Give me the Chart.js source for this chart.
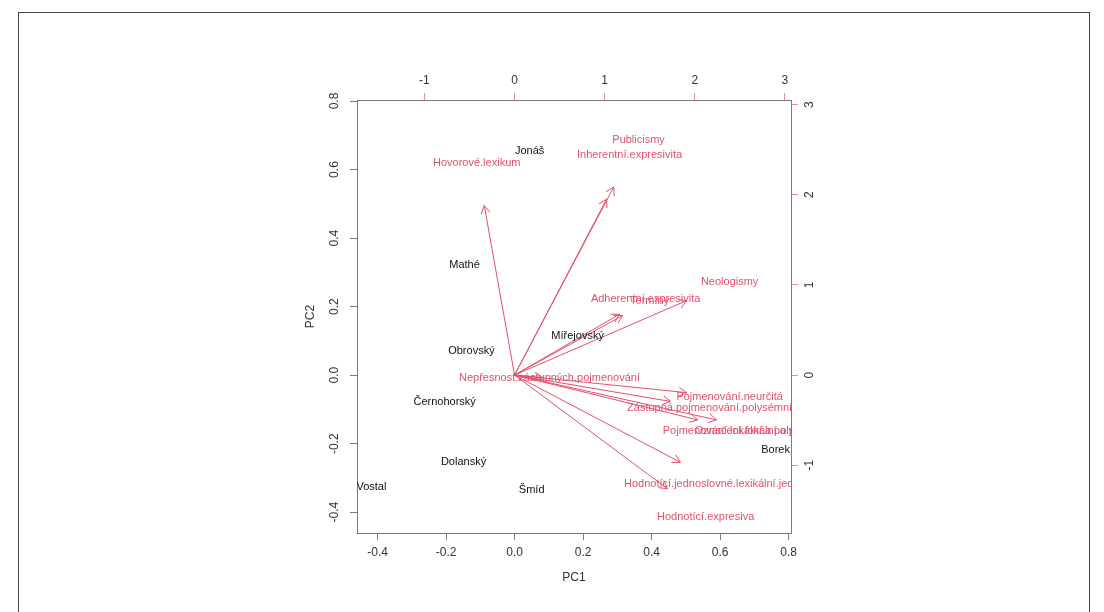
<!DOCTYPE html>
<html>
<head>
<meta charset="utf-8">
<script src="https://cdn.jsdelivr.net/npm/chart.js@4.4.1/dist/chart.umd.min.js"></script>
<style>
  html, body { margin:0; padding:0; background:#fff; width:1104px; height:612px; overflow:hidden; }
  #frame { position:absolute; left:18px; top:12px; width:1072px; height:640px; border:1px solid #444; box-sizing:border-box; }
  #wrap { position:absolute; left:0; top:0; width:1104px; height:612px; }
</style>
</head>
<body>
<div id="frame"></div>
<div id="wrap"><canvas id="c" width="1104" height="612"></canvas></div>
<script>
// ---- Data ----
const obsNames = ['Jonáš','Mathé','Obrovský','Mířejovský','Černohorský','Dolanský','Vostal','Šmíd','Borek'];
const obsPC1 = [0.044, -0.146, -0.126, 0.184, -0.204, -0.149, -0.418, 0.050, 0.762];
const obsPC2 = [0.655, 0.321, 0.070, 0.114, -0.079, -0.254, -0.327, -0.336, -0.219];

const varNames = ['Hovorové.lexikum','Publicismy','Inherentní.expresivita','Neologismy','Adherentní.expresivita','Termíny','Nepřesnost.zástupných.pojmenování','Pojmenování.neurčitá','Zástupná.pojmenování.polysémní','Pojmenování.lokální.a.polysémní','Označení.lokální.a.polysémní','Hodnotící.jednoslovné.lexikální.jednotky','Hodnotící.expresiva'];
const varPC1 = [-0.42, 1.376, 1.276, 2.386, 1.454, 1.498, 0.388, 2.386, 2.164, 2.54, 2.80, 2.30, 2.12];
const varPC2 = [2.35, 2.608, 2.44, 1.032, 0.843, 0.825, -0.033, -0.244, -0.366, -0.622, -0.622, -1.21, -1.576];

const ticksPC1 = [-0.4, -0.2, 0.0, 0.2, 0.4, 0.6, 0.8];
const ticksPC2 = [-0.4, -0.2, 0.0, 0.2, 0.4, 0.6, 0.8];
const ticksTop = [-1, 0, 1, 2, 3];
const ticksRight = [-1, 0, 1, 2, 3];

const arrowScale = 0.8;
const RED = '#e3506a';
const FONT = '"Liberation Sans", Arial, sans-serif';

// ---- Datasets ----
const datasets = [];
datasets.push({
  label: 'obs',
  data: obsPC1.map((x, i) => ({ x: x, y: obsPC2[i] })),
  xAxisID: 'x', yAxisID: 'y',
  pointRadius: 0, showLine: false
});
varNames.forEach((n, i) => {
  datasets.push({
    label: n,
    data: [{ x: 0, y: 0 }, { x: varPC1[i] * arrowScale, y: varPC2[i] * arrowScale }],
    xAxisID: 'x2', yAxisID: 'y2',
    showLine: true, borderColor: RED, borderWidth: 1, pointRadius: 0, fill: false
  });
});

function setTicks(arr) {
  return function (scale) { scale.ticks = arr.map(v => ({ value: v })); };
}

const labelPlugin = {
  id: 'biplotLabels',
  afterDatasetsDraw(chart) {
    const ctx = chart.ctx;
    const a = chart.chartArea;
    const sx = chart.scales.x, sy = chart.scales.y, sx2 = chart.scales.x2, sy2 = chart.scales.y2;
    // arrowheads
    ctx.save();
    ctx.strokeStyle = RED; ctx.lineWidth = 1;
    varNames.forEach((n, i) => {
      const x0 = sx2.getPixelForValue(0), y0 = sy2.getPixelForValue(0);
      const x1 = sx2.getPixelForValue(varPC1[i] * arrowScale), y1 = sy2.getPixelForValue(varPC2[i] * arrowScale);
      const ang = Math.atan2(y1 - y0, x1 - x0);
      const L = 9, th = Math.PI / 6;
      ctx.beginPath();
      ctx.moveTo(x1 - L * Math.cos(ang - th), y1 - L * Math.sin(ang - th));
      ctx.lineTo(x1, y1);
      ctx.lineTo(x1 - L * Math.cos(ang + th), y1 - L * Math.sin(ang + th));
      ctx.stroke();
    });
    ctx.restore();
    // texts clipped to plot region
    ctx.save();
    ctx.beginPath();
    ctx.rect(a.left, a.top, a.right - a.left, a.bottom - a.top);
    ctx.clip();
    ctx.font = '11px ' + FONT;
    ctx.textAlign = 'center'; ctx.textBaseline = 'middle';
    ctx.fillStyle = '#111';
    obsNames.forEach((n, i) => {
      ctx.fillText(n, sx.getPixelForValue(obsPC1[i]), sy.getPixelForValue(obsPC2[i]));
    });
    ctx.fillStyle = RED;
    varNames.forEach((n, i) => {
      ctx.fillText(n, sx2.getPixelForValue(varPC1[i]), sy2.getPixelForValue(varPC2[i]));
    });
    ctx.restore();
  },
  afterDraw(chart) {
    const ctx = chart.ctx;
    const a = chart.chartArea;
    const sy = chart.scales.y, sy2 = chart.scales.y2;
    ctx.save();
    ctx.font = '12px ' + FONT;
    ctx.fillStyle = '#333';
    ctx.textAlign = 'center'; ctx.textBaseline = 'middle';
    sy.ticks.forEach(t => {
      const p = sy.getPixelForValue(t.value);
      ctx.save(); ctx.translate(a.left - 22, p); ctx.rotate(-Math.PI / 2);
      ctx.fillText(t.value.toFixed(1), 0, 0); ctx.restore();
    });
    sy2.ticks.forEach(t => {
      const p = sy2.getPixelForValue(t.value);
      ctx.save(); ctx.translate(a.right + 19, p); ctx.rotate(-Math.PI / 2);
      ctx.fillText(String(t.value), 0, 0); ctx.restore();
    });
    // axis titles
    ctx.fillText('PC1', (a.left + a.right) / 2, a.bottom + 45);
    ctx.save(); ctx.translate(a.left - 46, (a.top + a.bottom) / 2); ctx.rotate(-Math.PI / 2);
    ctx.fillText('PC2', 0, 0); ctx.restore();
    ctx.restore();
  }
};

const GRAY = '#7a7a7a';
new Chart(document.getElementById('c'), {
  type: 'scatter',
  data: { datasets: datasets },
  options: {
    responsive: false,
    animation: false,
    devicePixelRatio: 1,
    layout: { padding: 0 },
    plugins: { legend: { display: false }, tooltip: { enabled: false }, title: { display: false } },
    scales: {
      x: {
        type: 'linear', position: 'bottom', min: -0.46, max: 0.807,
        afterBuildTicks: setTicks(ticksPC1),
        afterFit(s) { s.height = 79; },
        grid: { drawOnChartArea: false, drawTicks: true, tickLength: 7, color: GRAY },
        border: { display: true, color: GRAY, width: 1 },
        ticks: { font: { size: 12, family: FONT }, color: '#333', padding: 5, maxRotation: 0, autoSkip: false,
                 callback: v => Number(v).toFixed(1) }
      },
      x2: {
        type: 'linear', position: 'top', min: -1.748, max: 3.067,
        afterBuildTicks: setTicks(ticksTop),
        afterFit(s) { s.height = 100; },
        grid: { drawOnChartArea: false, drawTicks: true, tickLength: 7, color: '#e88a9a' },
        border: { display: true, color: GRAY, width: 1 },
        ticks: { font: { size: 12, family: FONT }, color: '#333', padding: 5, maxRotation: 0, autoSkip: false,
                 callback: v => String(v) }
      },
      y: {
        type: 'linear', position: 'left', min: -0.461, max: 0.803,
        afterBuildTicks: setTicks(ticksPC2),
        afterFit(s) { s.width = 357; },
        grid: { drawOnChartArea: false, drawTicks: true, tickLength: 7, color: GRAY },
        border: { display: true, color: GRAY, width: 1 },
        ticks: { display: false }
      },
      y2: {
        type: 'linear', position: 'right', min: -1.752, max: 3.051,
        afterBuildTicks: setTicks(ticksRight),
        afterFit(s) { s.width = 313; },
        grid: { drawOnChartArea: false, drawTicks: true, tickLength: 7, color: '#e88a9a' },
        border: { display: true, color: GRAY, width: 1 },
        ticks: { display: false }
      }
    }
  },
  plugins: [labelPlugin]
});
</script>
</body>
</html>
